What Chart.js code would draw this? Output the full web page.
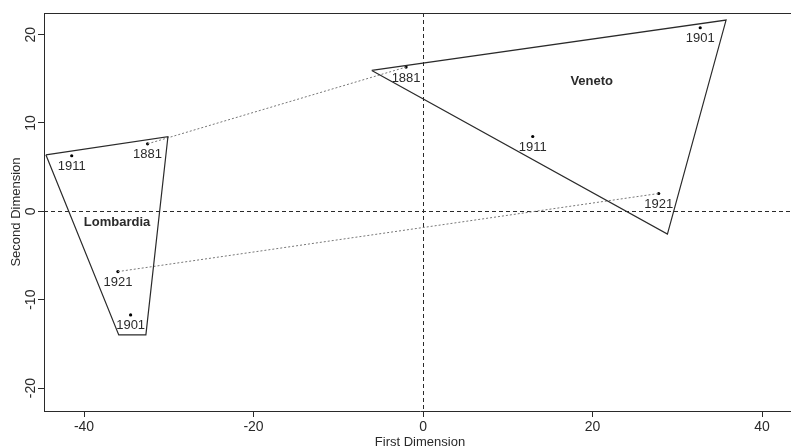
<!DOCTYPE html>
<html>
<head>
<meta charset="utf-8">
<script src="https://cdn.jsdelivr.net/npm/chart.js@4/dist/chart.umd.min.js"></script>
<style>
  html, body { margin: 0; padding: 0; background: #fff; overflow: hidden; }
  #wrap { width: 791px; height: 448px; overflow: hidden; }
</style>
</head>
<body>
<div id="wrap"><canvas id="chart" width="800" height="448"></canvas></div>
<script>
// --- datos ---
const years = ['1881', '1901', '1911', '1921'];
const lombX = [-32.5, -34.5, -41.45, -36.0];
const lombY = [7.64, -11.72, 6.29, -6.82];
const venX = [-2.0, 32.7, 12.94, 27.8];
const venY = [16.33, 20.78, 8.47, 2.02];

// envolventes (polígonos)
const lombHullX = [-44.5, -30.1, -32.7, -35.9];
const lombHullY = [6.4, 8.44, -13.99, -13.99];
const venHullX = [-6.05, 35.75, 28.83];
const venHullY = [15.95, 21.65, -2.58];

// años unidos con línea punteada
const linkedYears = ['1881', '1921'];

const regionNames = ['Lombardia', 'Veneto'];
const regionX = [-36.1, 19.9];
const regionY = [-1.2, 14.7];

const xTicks = [-40, -20, 0, 20, 40];
const yTicks = [-20, -10, 0, 10, 20];

const ink = '#2a2a2a';
const FONT = '"Liberation Sans", Arial, sans-serif';

const toPts = (xs, ys) => xs.map((x, i) => ({ x: x, y: ys[i] }));
const closed = (xs, ys) => { const p = toPts(xs, ys); p.push(p[0]); return p; };

const links = linkedYears.map(yr => {
    const i = years.indexOf(yr);
    return {
        type: 'line',
        data: [{ x: lombX[i], y: lombY[i] }, { x: venX[i], y: venY[i] }],
        borderColor: '#777',
        borderWidth: 1,
        borderDash: [2, 2],
        pointRadius: 0,
        showLine: true,
        fill: false
    };
});

// --- plugin: caja, líneas de referencia y textos ---
const extras = {
    id: 'extras',
    beforeDatasetsDraw(chart) {
        const { ctx, chartArea: a, scales: { x, y } } = chart;
        ctx.save();
        ctx.strokeStyle = ink;
        ctx.lineWidth = 1;
        ctx.setLineDash([4, 3]);
        const x0 = Math.round(x.getPixelForValue(0)) + 0.5;
        const y0 = Math.round(y.getPixelForValue(0)) + 0.5;
        ctx.beginPath();
        ctx.moveTo(x0, a.top); ctx.lineTo(x0, a.bottom);
        ctx.moveTo(a.left, y0); ctx.lineTo(chart.width, y0);
        ctx.stroke();
        ctx.restore();
    },
    afterDatasetsDraw(chart) {
        const { ctx, chartArea: a, scales: { x, y } } = chart;
        ctx.save();
        // etiquetas de años
        ctx.fillStyle = ink;
        ctx.font = '13px ' + FONT;
        ctx.textAlign = 'center';
        ctx.textBaseline = 'middle';
        [[lombX, lombY], [venX, venY]].forEach(([xs, ys]) => {
            xs.forEach((v, i) => {
                ctx.fillText(years[i], x.getPixelForValue(v), y.getPixelForValue(ys[i]) + 11);
            });
        });
        // nombres de regiones
        ctx.font = 'bold 13px ' + FONT;
        regionNames.forEach((n, i) => {
            ctx.fillText(n, x.getPixelForValue(regionX[i]), y.getPixelForValue(regionY[i]));
        });
        // marcas del eje Y giradas
        ctx.font = '14px ' + FONT;
        yTicks.forEach(v => {
            ctx.save();
            ctx.translate(a.left - 12.5, y.getPixelForValue(v));
            ctx.rotate(-Math.PI / 2);
            ctx.fillText(String(v), 0, 0);
            ctx.restore();
        });
        // línea superior de la caja (el borde derecho queda fuera de la imagen)
        ctx.strokeStyle = ink;
        ctx.lineWidth = 1;
        const top = Math.round(a.top) + 0.5;
        ctx.beginPath();
        ctx.moveTo(a.left, top);
        ctx.lineTo(chart.width, top);
        ctx.stroke();
        ctx.restore();
    }
};

new Chart(document.getElementById('chart'), {
    type: 'scatter',
    data: {
        datasets: [
            { type: 'line', data: closed(lombHullX, lombHullY), borderColor: ink, borderWidth: 1.2, pointRadius: 0, fill: false, tension: 0 },
            { type: 'line', data: closed(venHullX, venHullY), borderColor: ink, borderWidth: 1.2, pointRadius: 0, fill: false, tension: 0 },
            ...links,
            { data: toPts(lombX, lombY), pointRadius: 1.6, backgroundColor: '#000', borderWidth: 0 },
            { data: toPts(venX, venY), pointRadius: 1.6, backgroundColor: '#000', borderWidth: 0 }
        ]
    },
    options: {
        responsive: false,
        animation: false,
        layout: { padding: { top: 13, right: 0, left: 0, bottom: 0 } },
        plugins: { legend: { display: false }, tooltip: { enabled: false } },
        scales: {
            x: {
                type: 'linear',
                min: -44.72,
                max: 44.0,
                afterBuildTicks: s => { s.ticks = xTicks.map(v => ({ value: v })); },
                afterFit: s => { s.height = 37; },
                grid: { drawOnChartArea: false, drawTicks: true, tickLength: 6, color: ink },
                border: { display: true, color: ink },
                ticks: { color: ink, font: { family: FONT, size: 14 }, padding: 2, maxRotation: 0 },
                title: { display: true, text: 'First Dimension', color: ink, font: { family: FONT, size: 13 }, padding: { top: 0, bottom: -2 } }
            },
            y: {
                type: 'linear',
                min: -22.6,
                max: 22.45,
                afterBuildTicks: s => { s.ticks = yTicks.map(v => ({ value: v })); },
                afterFit: s => { s.width = 44; },
                grid: { drawOnChartArea: false, drawTicks: true, tickLength: 6, color: ink },
                border: { display: true, color: ink },
                ticks: { display: false },
                title: { display: true, text: 'Second Dimension', color: ink, font: { family: FONT, size: 13 }, padding: { top: 9, bottom: 0 } }
            }
        }
    },
    plugins: [extras]
});
</script>
</body>
</html>
